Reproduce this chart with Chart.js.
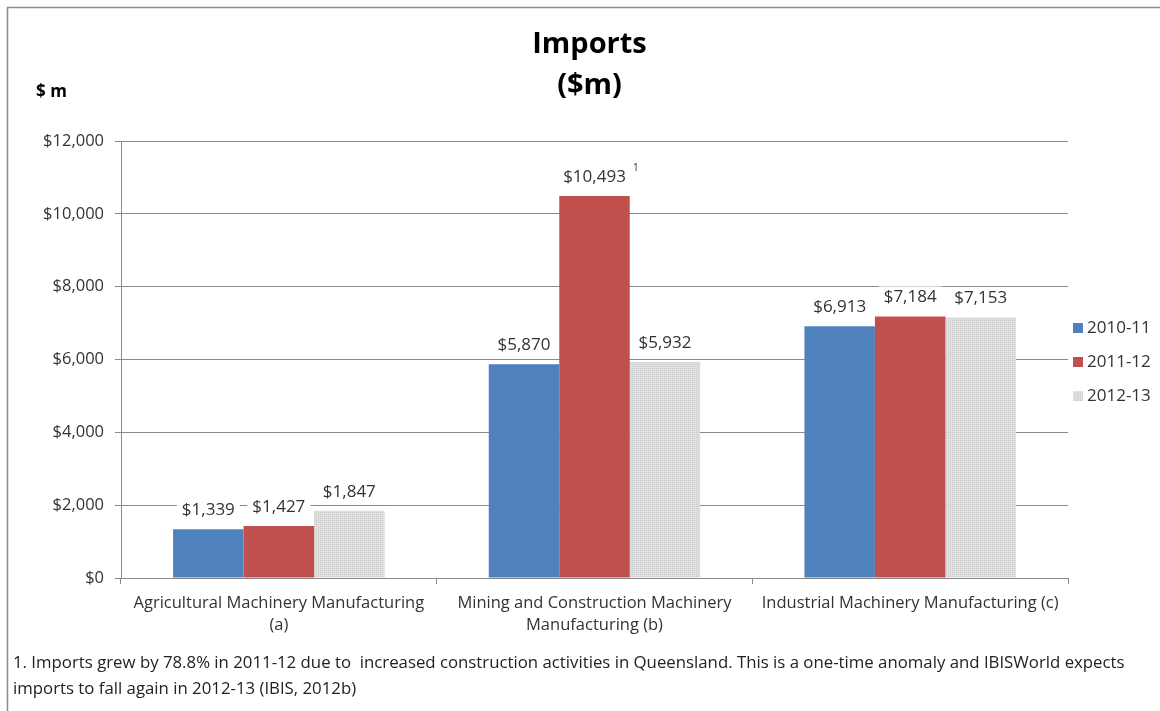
<!DOCTYPE html>
<html>
<head>
<meta charset="utf-8">
<title>Imports ($m)</title>
<script src="https://cdn.jsdelivr.net/npm/chart.js@4/dist/chart.umd.min.js"></script>
<style>
  html, body { margin: 0; padding: 0; background: #fff; }
  canvas { display: block; }
</style>
</head>
<body>
<canvas id="chartCanvas" width="1160" height="711"></canvas>
<script>
// industry groups and yearly imports ($m)
const categories = [
  ["Agricultural Machinery Manufacturing", "(a)"],
  ["Mining and Construction Machinery", "Manufacturing (b)"],
  "Industrial Machinery Manufacturing (c)"
];
const years = ["2010-11", "2011-12", "2012-13"];
const imports1011 = [1339, 5870, 6913];
const imports1112 = [1427, 10493, 7184];
const imports1213 = [1847, 5932, 7153];
const yTicks = [0, 2000, 4000, 6000, 8000, 10000, 12000];
const footnote = [
  "1. Imports grew by 78.8% in 2011-12 due to  increased construction activities in Queensland. This is a one-time anomaly and IBISWorld expects",
  "imports to fall again in 2012-13 (IBIS, 2012b)"
];

const FONT = "'Open Sans', sans-serif";
const TEXT = '#333';
const GRID = '#8a8a8a';

const canvas = document.getElementById('chartCanvas');
const ctx = canvas.getContext('2d');

const money = v => '$' + v.toLocaleString('en-US');

// light grey dotted fill for 2012-13
function dotted() {
  const c = document.createElement('canvas');
  c.width = 4; c.height = 4;
  const g = c.getContext('2d');
  g.fillStyle = '#e0e0e0';
  g.fillRect(0, 0, 4, 4);
  g.fillStyle = '#c4c4c4';
  g.fillRect(0, 0, 1, 1);
  g.fillRect(2, 2, 1, 1);
  g.fillStyle = '#d2d2d2';
  g.fillRect(2, 0, 1, 1);
  g.fillRect(0, 2, 1, 1);
  return ctx.createPattern(c, 'repeat');
}
const grey = dotted();

// values above bars on a white box, plus the footnote marker
const valueLabels = {
  id: 'valueLabels',
  afterDatasetsDraw(chart) {
    const c = chart.ctx;
    c.save();
    c.font = '17px ' + FONT;
    c.textAlign = 'center';
    c.textBaseline = 'middle';
    chart.data.datasets.forEach((ds, i) => {
      chart.getDatasetMeta(i).data.forEach((bar, j) => {
        const txt = money(ds.data[j]);
        const w = c.measureText(txt).width + 10;
        const y = bar.y - 19;
        c.fillStyle = '#fff';
        c.fillRect(bar.x - w / 2, y - 11, w, 22);
        c.fillStyle = TEXT;
        c.fillText(txt, bar.x, y);
        if (i === 1 && j === 1) {
          c.save();
          c.font = '10px ' + FONT;
          c.fillText('1', bar.x + w / 2 + 5, y - 9);
          c.restore();
        }
      });
    });
    c.restore();
  }
};

// titles, legend, footnote and frame
const decorations = {
  id: 'decorations',
  afterDraw(chart) {
    const c = chart.ctx;
    const area = chart.chartArea;
    c.save();
    // frame
    c.strokeStyle = '#8c8c8c';
    c.lineWidth = 1.5;
    c.beginPath();
    c.moveTo(7.5, 711);
    c.lineTo(7.5, 7.5);
    c.lineTo(1160, 7.5);
    c.stroke();

    c.fillStyle = '#000';
    c.textAlign = 'center';
    c.textBaseline = 'middle';
    c.font = 'bold 29px ' + FONT;
    const cx = (area.left + area.right) / 2 - 5;
    c.fillText('Imports', cx, 45);
    c.fillText('($m)', cx, 86);

    c.textAlign = 'left';
    c.font = 'bold 17px ' + FONT;
    c.fillText('$ m', 36, 92);

    // legend
    const ly = [328, 362, 396];
    c.font = '17px ' + FONT;
    chart.data.datasets.forEach((ds, i) => {
      c.fillStyle = ds.backgroundColor;
      c.fillRect(1073, ly[i] - 5, 10, 10);
      c.fillStyle = TEXT;
      c.fillText(ds.label, 1087, ly[i]);
    });

    // footnote
    c.font = '16.8px ' + FONT;
    c.fillStyle = '#222';
    c.fillText(footnote[0], 13, 663);
    c.fillText(footnote[1], 13, 689);
    c.restore();
  }
};

new Chart(canvas, {
  type: 'bar',
  data: {
    labels: categories,
    datasets: [
      { label: years[0], data: imports1011, backgroundColor: '#4f81bd' },
      { label: years[1], data: imports1112, backgroundColor: '#c0504d' },
      { label: years[2], data: imports1213, backgroundColor: grey }
    ]
  },
  options: {
    responsive: false,
    animation: false,
    events: [],
    layout: { padding: { top: 141, right: 92, bottom: 0, left: 0 } },
    datasets: { bar: { categoryPercentage: 0.67, barPercentage: 1.0 } },
    plugins: {
      legend: { display: false },
      title: { display: false },
      tooltip: { enabled: false }
    },
    scales: {
      x: {
        afterFit: s => { s.height = 133; },
        grid: { drawOnChartArea: false, drawTicks: true, tickLength: 6, color: GRID, offset: true },
        border: { color: GRID },
        ticks: { color: TEXT, font: { family: FONT, size: 16.5, lineHeight: 1.35 }, padding: 8, maxRotation: 0, autoSkip: false }
      },
      y: {
        min: 0,
        max: yTicks[yTicks.length - 1],
        afterFit: s => { s.width = 121; },
        afterBuildTicks: s => { s.ticks = yTicks.map(v => ({ value: v })); },
        grid: { color: GRID, tickLength: 6 },
        border: { color: GRID },
        ticks: { color: TEXT, font: { family: FONT, size: 16.5 }, padding: 11, callback: v => money(v) }
      }
    }
  },
  plugins: [valueLabels, decorations]
});
</script>
</body>
</html>
